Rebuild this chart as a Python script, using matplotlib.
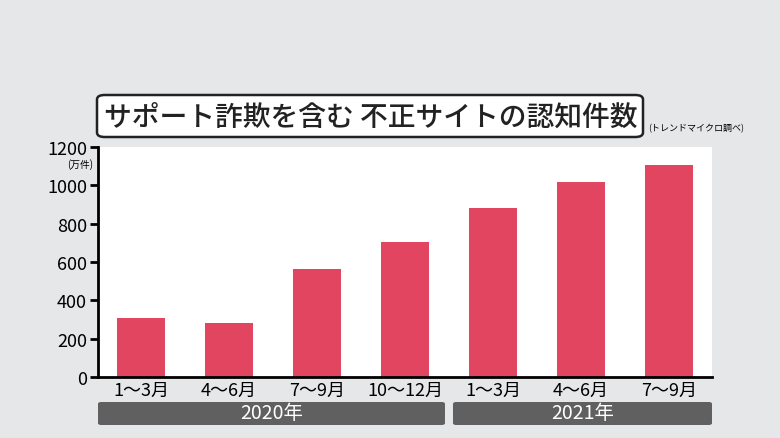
import matplotlib.pyplot as plt
from matplotlib.patches import FancyBboxPatch

plt.rcParams['font.family'] = ['Noto Sans CJK JP', 'DejaVu Sans']

quarters = ['1～3月', '4～6月', '7～9月', '10～12月', '1～3月', '4～6月', '7～9月']
counts = [307, 280, 562, 703, 880, 1020, 1108]
years = ['2020年', '2021年']
year_spans = [(0, 3), (4, 6)]  # first/last bar index for each year
yticks = [0, 200, 400, 600, 800, 1000, 1200]

BG = '#e6e7e8'
BAR = '#e24560'
BAND = '#606060'

W, H = 780, 439
fig = plt.figure(figsize=(W / 100, H / 100), dpi=100)
fig.patch.set_facecolor(BG)

# axes in pixel coords
x0, x1, y0, y1 = 98, 712, 148, 378
ax = fig.add_axes([x0 / W, 1 - y1 / H, (x1 - x0) / W, (y1 - y0) / H])
ax.set_facecolor('white')

ax.bar(range(len(counts)), counts, width=0.55, color=BAR)
ax.set_xlim(-0.49, len(counts) - 0.51)
ax.set_ylim(0, 1200)
ax.set_yticks(yticks)
ax.tick_params(axis='y', labelsize=13, length=6, width=2, pad=2)
ax.set_xticks(range(len(counts)))
ax.set_xticklabels(quarters, fontsize=13)
ax.tick_params(axis='x', length=0, pad=3)
for s in ['top', 'right']:
    ax.spines[s].set_visible(False)
for s in ['left', 'bottom']:
    ax.spines[s].set_linewidth(2)

fig.text(80 / W, 1 - 165 / H, '(万件)', fontsize=7, ha='center', va='center')

# year bands below the axis
def px(v):
    return x0 + (v + 0.49) / (len(counts) - 0.02) * (x1 - x0)

for (a, b), label in zip(year_spans, years):
    left = px(a - 0.5) + (4 if a > 0 else 0)
    right = px(b + 0.5) - (4 if b < len(counts) - 1 else 0)
    left = max(left, x0)
    right = min(right, x1)
    band = FancyBboxPatch((left / W, 1 - 426 / H), (right - left) / W, 23 / H,
                          boxstyle='round,pad=0,rounding_size=0.004',
                          transform=fig.transFigure, facecolor=BAND, edgecolor='none')
    fig.patches.append(band)
    fig.text((left + right) / 2 / W, 1 - 414 / H, label, color='white',
             fontsize=14, ha='center', va='center')

# title box
tb = FancyBboxPatch((97 / W, 1 - 138 / H), (643 - 97) / W, 42 / H,
                    boxstyle='round,pad=0,rounding_size=0.01',
                    transform=fig.transFigure, facecolor='white',
                    edgecolor='#222222', linewidth=1.8)
fig.patches.append(tb)
fig.text(371 / W, 1 - 117 / H, 'サポート詐欺を含む 不正サイトの認知件数',
         fontsize=20, fontweight='medium', ha='center', va='center', color='#222222')
fig.text(648 / W, 1 - 129 / H, '(トレンドマイクロ調べ)', fontsize=6.5,
         ha='left', va='center')

fig.savefig('out.png', dpi=100, facecolor=BG)
